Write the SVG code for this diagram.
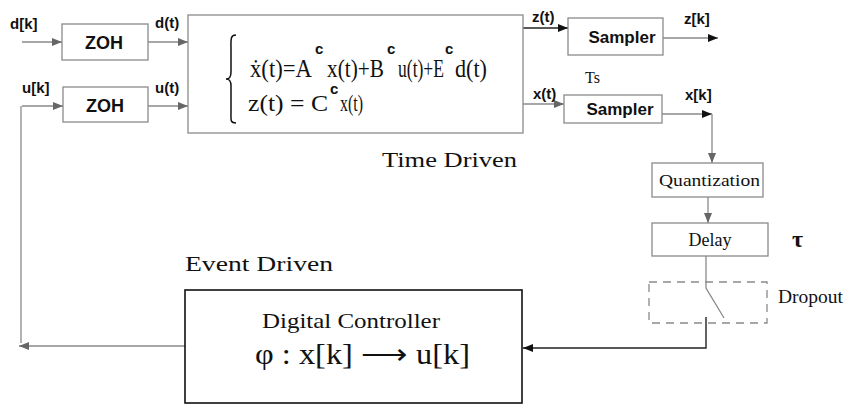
<svg xmlns="http://www.w3.org/2000/svg" width="848" height="408" viewBox="0 0 848 408">
<style>
.box{fill:#fff;stroke:#8a8a8a;stroke-width:1.3}
.bk{fill:#fff;stroke:#111;stroke-width:1.6}
.dash{fill:none;stroke:#8a8a8a;stroke-width:1.3;stroke-dasharray:8,6}
.ln{fill:none;stroke:#8a8a8a;stroke-width:1.3}
.lnk{fill:none;stroke:#222;stroke-width:1.4}
.sans{font-family:"Liberation Sans",Arial,sans-serif;font-weight:bold;fill:#111}
.serif{font-family:"Liberation Serif","Times New Roman",serif;fill:#111}
.eq{font-family:"Liberation Serif","Times New Roman",serif;fill:#111;font-size:26px}
.eq2{font-family:"Liberation Serif","Times New Roman",serif;fill:#111;font-size:23px}
.sup{font-family:"Liberation Sans",Arial,sans-serif;font-weight:bold;fill:#111;font-size:15px}
</style>
<defs>
<marker id="ah" viewBox="0 0 10 8" refX="10" refY="4" markerWidth="10" markerHeight="8" markerUnits="userSpaceOnUse" orient="auto"><path d="M0,0 L10,4 L0,8 z" fill="#666"/></marker>
<marker id="ahk" viewBox="0 0 10 8" refX="10" refY="4" markerWidth="10" markerHeight="8" markerUnits="userSpaceOnUse" orient="auto"><path d="M0,0 L10,4 L0,8 z" fill="#111"/></marker>
</defs>
<rect width="848" height="408" fill="#fff"/>

<g id="connectors">
<path class="ln" d="M22,42 H62" marker-end="url(#ah)"/>
<path class="ln" d="M148,42 H188" marker-end="url(#ah)"/>
<path class="ln" d="M22,106 H63" marker-end="url(#ah)"/>
<path class="ln" d="M148,106 H188" marker-end="url(#ah)"/>
<path class="lnk" d="M523,28 H568" marker-end="url(#ahk)"/>
<path class="ln" d="M663,38 H718" marker-end="url(#ahk)"/>
<path class="ln" d="M523,104 H564" marker-end="url(#ah)"/>
<path class="ln" d="M662,114 H712" marker-end="url(#ahk)"/>
<path class="ln" d="M712,114 V163" marker-end="url(#ah)"/>
<path class="ln" d="M708,197 V223" marker-end="url(#ah)"/>
<path class="ln" d="M706,256 V288 L724,318"/>
<path class="lnk" d="M706,317 V348 H523" marker-end="url(#ahk)"/>
<path class="ln" d="M185,346 H19" marker-end="url(#ah)"/>
<path class="ln" d="M21,106 V343"/>
</g>

<g id="zoh1">
<rect class="box" x="62" y="24" width="86" height="36"/>
<text class="sans" x="104" y="49" font-size="18" text-anchor="middle">ZOH</text>
</g>
<g id="zoh2">
<rect class="box" x="63" y="87" width="85" height="35"/>
<text class="sans" x="105" y="112" font-size="18" text-anchor="middle">ZOH</text>
</g>

<g id="plant">
<rect class="box" x="188" y="15" width="335" height="118"/>
<path d="M236,35 C230,35 231,40 231,50 L231,72 C231,78 229,79 226,79 C229,79 231,80 231,86 L231,112 C231,120 230,123 236,123" fill="none" stroke="#111" stroke-width="1.5"/>
<text class="eq" x="250" y="77" textLength="62" lengthAdjust="spacingAndGlyphs">ẋ(t)=A</text>
<text class="sup" x="315" y="54">c</text>
<text class="eq" x="327" y="77" textLength="57" lengthAdjust="spacingAndGlyphs">x(t)+B</text>
<text class="sup" x="387" y="54">c</text>
<text class="eq" x="398" y="77" textLength="46" lengthAdjust="spacingAndGlyphs">u(t)+E</text>
<text class="sup" x="445" y="54">c</text>
<text class="eq" x="455" y="77" textLength="32" lengthAdjust="spacingAndGlyphs">d(t)</text>
<text class="eq2" x="248" y="111" textLength="80" lengthAdjust="spacingAndGlyphs">z(t) = C</text>
<text class="sup" x="330" y="94">c</text>
<text class="eq2" x="340" y="111" textLength="23" lengthAdjust="spacingAndGlyphs">x(t)</text>
</g>

<g id="sampler1">
<rect class="box" x="568" y="18" width="95" height="37"/>
<text class="sans" x="622" y="43" font-size="17" text-anchor="middle">Sampler</text>
</g>
<g id="sampler2">
<rect class="box" x="564" y="95" width="98" height="28"/>
<text class="sans" x="620" y="115" font-size="17" text-anchor="middle">Sampler</text>
</g>

<g id="quantization">
<rect class="box" x="652" y="163" width="111" height="34"/>
<text class="serif" x="659" y="186" font-size="17" textLength="101" lengthAdjust="spacingAndGlyphs">Quantization</text>
</g>
<g id="delay">
<rect class="box" x="652" y="223" width="116" height="33"/>
<text class="serif" x="710" y="246" font-size="18" text-anchor="middle">Delay</text>
</g>
<g id="dropout">
<rect class="dash" x="649" y="282" width="118" height="41"/>
<text class="serif" x="778" y="303" font-size="18" textLength="65" lengthAdjust="spacingAndGlyphs">Dropout</text>
</g>

<g id="controller">
<rect class="bk" x="185" y="290" width="337" height="113"/>
<text class="serif" x="262" y="328" font-size="21" textLength="178" lengthAdjust="spacingAndGlyphs">Digital Controller</text>
<text class="serif" x="255" y="364" font-size="29" textLength="215" lengthAdjust="spacingAndGlyphs">φ : x[k] ⟶ u[k]</text>
</g>

<g id="labels">
<text class="sans" x="10" y="29" font-size="15">d[k]</text>
<text class="sans" x="155" y="28" font-size="15">d(t)</text>
<text class="sans" x="22" y="93" font-size="15">u[k]</text>
<text class="sans" x="155" y="93" font-size="15">u(t)</text>
<text class="sans" x="532" y="22" font-size="15">z(t)</text>
<text class="sans" x="684" y="24" font-size="15">z[k]</text>
<text class="serif" x="585" y="83" font-size="16">Ts</text>
<text class="sans" x="533" y="99" font-size="15">x(t)</text>
<text class="sans" x="685" y="100" font-size="15">x[k]</text>
<text class="serif" x="792" y="247" font-size="24" font-weight="bold">τ</text>
<text class="serif" x="382" y="167" font-size="22" textLength="135" lengthAdjust="spacingAndGlyphs">Time Driven</text>
<text class="serif" x="185" y="271" font-size="22" textLength="148" lengthAdjust="spacingAndGlyphs">Event Driven</text>
</g>
</svg>
